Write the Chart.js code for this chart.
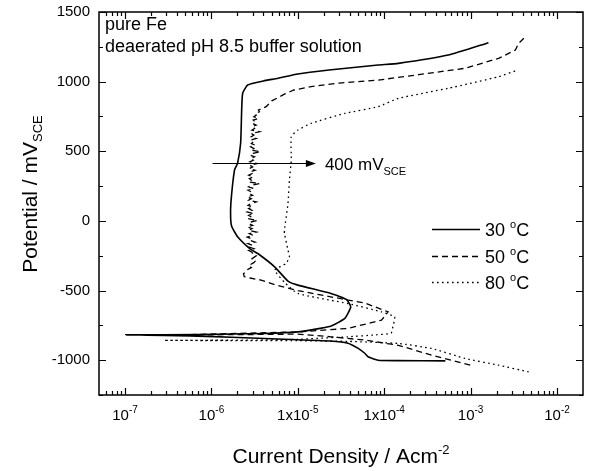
<!DOCTYPE html>
<html>
<head>
<meta charset="utf-8">
<script src="https://cdn.jsdelivr.net/npm/chart.js@4.4.1/dist/chart.umd.min.js"></script>
<style>
  html, body { margin: 0; padding: 0; background: #fff; }
  #wrap { width: 590px; height: 471px; position: relative; }
</style>
</head>
<body>
<div id="wrap"><canvas id="c"></canvas></div>
<script>
// ─── Config ───────────────────────────────────────────────────────────────────

const FONT = '"Liberation Sans", Arial, sans-serif';

const X_MIN = 5e-8, X_MAX = 2e-2;
const Y_MIN = -1250, Y_MAX = 1500;

const X_MAJOR = [1e-7, 1e-6, 1e-5, 1e-4, 1e-3, 1e-2];
const X_TICK_LABELS = [["10", "-7"], ["10", "-6"], ["1x10", "-5"], ["1x10", "-4"], ["10", "-3"], ["10", "-2"]];
const Y_MAJOR = [-1000, -500, 0, 500, 1000, 1500];
const Y_MINOR = [-1250, -750, -250, 250, 750, 1250];

const SERIES_TEMPS = ["30", "50", "80"];
const SERIES_DASH  = [[], [6, 4], [1.6, 3.4]];

// ─── Data (current density A/cm², potential mV_SCE) ──────────────────────────

const CURRENT_30 = [
  5.1e-4, 1.46e-4, 8.5e-5, 6.5e-5, 6.0e-5, 5.0e-5, 3.8e-5, 2.4e-5, 1.0e-5, 1.7e-6, 6.9e-7, 1.02e-7,
  6.9e-7, 4.1e-6, 1.0e-5, 2.4e-5, 3.5e-5, 4.1e-5, 3.65e-5, 2.42e-5, 1.0e-5, 7.7e-6, 5.4e-6, 3.44e-6,
  2.85e-6, 2.01e-6, 1.72e-6, 1.67e-6, 1.68e-6, 1.85e-6, 2.01e-6, 2.18e-6, 2.24e-6, 2.30e-6, 2.63e-6,
  4.0e-6, 5.9e-6, 1.0e-5, 2.3e-5, 8.5e-5, 1.46e-4, 5.5e-4, 1.61e-3
];
const POTENTIAL_30 = [
  -1005, -1003, -1000, -975, -952, -915, -878, -862, -853, -835, -827, -818,
  -816, -808, -797, -756, -700, -617, -564, -521, -461, -432, -330, -234,
  -205, -114, -40, 20, 128, 365, 415, 559, 795, 917, 976,
  1005, 1024, 1055, 1083, 1119, 1131, 1191, 1280
];

const CURRENT_50 = [
  9.9e-4, 3.54e-4, 1.46e-4, 6.0e-5, 2.43e-5, 1.0e-5, 3.5e-7,
  1.0e-5, 3.8e-5, 9.3e-5, 1.11e-4, 6.0e-5, 2.4e-5, 1.0e-5, 5.5e-6, 3.76e-6, 2.8e-6, 2.4e-6, 2.35e-6,
  2.5e-6, 2.6e-6, 2.9e-6, 2.7e-6, 3.1e-6, 3.2e-6, 2.9e-6, 3.3e-6, 3.0e-6,
  2.95e-6, 2.7e-6, 3.1e-6, 2.75e-6, 3.0e-6, 2.65e-6, 3.2e-6, 2.8e-6, 2.9e-6, 2.6e-6,
  3.05e-6, 2.75e-6, 3.3e-6, 2.7e-6, 2.95e-6, 2.6e-6, 3.0e-6, 2.7e-6, 2.85e-6, 3.4e-6,
  2.65e-6, 2.9e-6, 2.7e-6, 3.1e-6, 2.6e-6, 2.95e-6, 2.7e-6, 3.0e-6, 2.65e-6, 2.85e-6,
  3.3e-6, 2.7e-6, 2.9e-6, 2.6e-6, 3.0e-6, 2.75e-6, 2.9e-6, 2.65e-6, 3.1e-6, 2.7e-6,
  2.95e-6, 3.6e-6, 2.7e-6, 2.9e-6, 2.75e-6, 3.05e-6, 2.7e-6, 2.95e-6, 2.8e-6, 3.2e-6,
  2.75e-6, 3.0e-6, 2.8e-6, 3.4e-6, 2.8e-6, 3.05e-6, 2.85e-6, 3.15e-6, 2.8e-6, 3.0e-6,
  3.7e-6, 2.85e-6, 3.1e-6, 2.85e-6, 3.2e-6, 2.9e-6, 3.05e-6, 2.85e-6, 3.3e-6, 2.9e-6,
  3.1e-6, 2.9e-6, 3.6e-6, 2.95e-6, 3.15e-6, 2.95e-6, 3.3e-6, 3.0e-6, 3.2e-6, 3.05e-6,
  3.5e-6, 3.1e-6, 3.3e-6, 3.2e-6, 3.6e-6, 3.5e-6, 3.9e-6, 4.3e-6,
  5.0e-6, 5.9e-6, 7.0e-6, 9.0e-6, 1.42e-5, 3.0e-5,
  8.5e-5, 2.5e-4, 8.65e-4, 2.11e-3, 3.3e-3, 3.6e-3, 4.3e-3
];
const POTENTIAL_50 = [
  -1036, -964, -893, -856, -832, -813, -820,
  -797, -772, -713, -653, -590, -545, -500, -460, -425, -410, -400, -380,
  -365, -350, -335, -320, -300, -290, -275, -250, -236,
  -224, -212, -200, -188, -176, -164, -152, -140, -128, -116,
  -104, -92, -80, -68, -56, -44, -32, -20, -8, 4,
  16, 28, 40, 52, 64, 76, 88, 100, 112, 124,
  136, 148, 160, 172, 184, 196, 208, 220, 232, 244,
  256, 268, 280, 292, 304, 316, 328, 340, 352, 364,
  376, 388, 400, 412, 424, 436, 448, 460, 472, 484,
  496, 508, 520, 532, 544, 556, 568, 580, 592, 604,
  616, 628, 640, 652, 664, 676, 688, 700, 712, 724,
  736, 748, 760, 772, 784, 796, 808, 820,
  862, 885, 910, 940, 964, 990,
  1011, 1050, 1096, 1167, 1227, 1275, 1322
];

const CURRENT_80 = [
  4.7e-3, 2.1e-3, 8.65e-4, 3.54e-4, 1.46e-4, 3.8e-5, 1.0e-5, 2.84e-7,
  3.0e-6, 1.0e-5, 3.8e-5, 8.0e-5, 1.2e-4, 1.26e-4, 1.32e-4, 9.3e-5, 3.8e-5, 1.0e-5, 7.0e-6, 5.4e-6,
  7.3e-6, 8.0e-6, 7.7e-6, 7.0e-6, 7.0e-6, 7.7e-6, 8.0e-6, 8.4e-6, 8.4e-6, 1.0e-5, 1.42e-5, 3.5e-5,
  8.5e-5, 1.46e-4, 5.5e-4, 2.1e-3, 3.5e-3
];
const POTENTIAL_80 = [
  -1084, -1036, -988, -916, -880, -865, -860, -858,
  -856, -850, -832, -818, -806, -760, -689, -653, -593, -521, -440, -353,
  -306, -258, -210, -90, -66, 126, 293, 437, 604, 652, 700, 772,
  820, 880, 952, 1035, 1083
];

// ─── Helpers ──────────────────────────────────────────────────────────────────

const zip = (xs, ys) => xs.map((x, i) => ({ x, y: ys[i] }));

function richWidth(ctx, parts) {
  let w = 0;
  for (const p of parts) {
    ctx.font = `${p.size}px ${FONT}`;
    w += ctx.measureText(p.text).width;
  }
  return w;
}

function drawRich(ctx, parts, x, y, align = "left") {
  const w = richWidth(ctx, parts);
  let cx = align === "center" ? x - w / 2 : align === "right" ? x - w : x;
  ctx.textAlign = "left";
  ctx.textBaseline = "alphabetic";
  for (const p of parts) {
    ctx.font = `${p.size}px ${FONT}`;
    ctx.fillText(p.text, cx, y + (p.dy || 0));
    cx += ctx.measureText(p.text).width;
  }
}

// ─── Decorations plugin ──────────────────────────────────────────────────────

const framePlugin = {
  id: "frame",
  afterDraw(chart) {
    const { ctx, chartArea: a, scales } = chart;
    const sx = scales.x, sy = scales.y;
    ctx.save();
    ctx.strokeStyle = "#000";
    ctx.fillStyle = "#000";

    // frame
    ctx.lineWidth = 1.5;
    ctx.strokeRect(a.left, a.top, a.right - a.left, a.bottom - a.top);

    // x ticks (inward, bottom + top)
    ctx.lineWidth = 1.2;
    const xTick = (v, len) => {
      const px = Math.round(sx.getPixelForValue(v)) + 0.5;
      if (px < a.left + 1 || px > a.right - 1) return;
      ctx.beginPath();
      ctx.moveTo(px, a.bottom); ctx.lineTo(px, a.bottom - len);
      ctx.moveTo(px, a.top); ctx.lineTo(px, a.top + len);
      ctx.stroke();
    };
    for (let d = -8; d <= -2; d++) {
      for (let m = 2; m <= 9; m++) xTick(m * Math.pow(10, d), 4);
    }
    X_MAJOR.forEach((v) => xTick(v, 7));

    // y ticks (inward, left + right)
    const yTick = (v, len) => {
      const py = Math.round(sy.getPixelForValue(v)) + 0.5;
      ctx.beginPath();
      ctx.moveTo(a.left, py); ctx.lineTo(a.left + len, py);
      ctx.moveTo(a.right, py); ctx.lineTo(a.right - len, py);
      ctx.stroke();
    };
    Y_MINOR.forEach((v) => yTick(v, 4));
    Y_MAJOR.forEach((v) => yTick(v, 7));

    // tick labels
    ctx.font = `15px ${FONT}`;
    ctx.textAlign = "right";
    ctx.textBaseline = "middle";
    Y_MAJOR.forEach((v) => ctx.fillText(String(v), a.left - 9, sy.getPixelForValue(v)));

    X_MAJOR.forEach((v, i) => {
      const [base, exp] = X_TICK_LABELS[i];
      drawRich(ctx, [
        { text: base, size: 15 },
        { text: exp, size: 10, dy: -7 },
      ], sx.getPixelForValue(v), a.bottom + 25, "center");
    });

    // axis titles
    drawRich(ctx, [
      { text: "Current Density / Acm", size: 21 },
      { text: "-2", size: 13, dy: -9 },
    ], (a.left + a.right) / 2, 463, "center");

    ctx.save();
    ctx.translate(37, 194);
    ctx.rotate(-Math.PI / 2);
    drawRich(ctx, [
      { text: "Potential / mV", size: 21 },
      { text: "SCE", size: 13, dy: 5 },
    ], 0, 0, "center");
    ctx.restore();

    // annotations
    drawRich(ctx, [{ text: "pure Fe", size: 18 }], a.left + 6, a.top + 18);
    drawRich(ctx, [{ text: "deaerated pH 8.5 buffer solution", size: 18 }], a.left + 6, a.top + 40);

    // arrow at 400 mV
    const ay = Math.round(sy.getPixelForValue(415)) + 0.5;
    const ax0 = sx.getPixelForValue(1.03e-6);
    const ax1 = sx.getPixelForValue(1.62e-5);
    ctx.lineWidth = 1.2;
    ctx.beginPath();
    ctx.moveTo(ax0, ay); ctx.lineTo(ax1 - 8, ay);
    ctx.stroke();
    ctx.beginPath();
    ctx.moveTo(ax1, ay); ctx.lineTo(ax1 - 10, ay - 3.5); ctx.lineTo(ax1 - 10, ay + 3.5);
    ctx.closePath();
    ctx.fill();
    drawRich(ctx, [
      { text: "400 mV", size: 17 },
      { text: "SCE", size: 11, dy: 5 },
    ], ax1 + 9, ay + 6);

    // legend
    SERIES_TEMPS.forEach((t, i) => {
      const ly = Math.round(sy.getPixelForValue(-60 - i * 190)) + 0.5;
      ctx.lineWidth = 1.3;
      ctx.setLineDash(SERIES_DASH[i]);
      ctx.beginPath();
      ctx.moveTo(432, ly); ctx.lineTo(480, ly);
      ctx.stroke();
      ctx.setLineDash([]);
      drawRich(ctx, [
        { text: t + " ", size: 18 },
        { text: "o", size: 11, dy: -8 },
        { text: "C", size: 18 },
      ], 485, ly + 6);
    });

    ctx.restore();
  },
};

// ─── Chart ────────────────────────────────────────────────────────────────────

const datasets = [
  zip(CURRENT_30, POTENTIAL_30),
  zip(CURRENT_50, POTENTIAL_50),
  zip(CURRENT_80, POTENTIAL_80),
].map((data, i) => ({
  label: SERIES_TEMPS[i] + " °C",
  data,
  showLine: true,
  borderColor: "#000",
  borderWidth: i === 0 ? 1.6 : 1.3,
  borderDash: SERIES_DASH[i],
  pointRadius: 0,
  tension: i === 1 ? 0 : 0.15,
  fill: false,
}));

new Chart(document.getElementById("c"), {
  type: "scatter",
  data: { datasets },
  options: {
    responsive: true,
    maintainAspectRatio: false,
    animation: false,
    layout: { padding: { left: 99, top: 12, right: 7, bottom: 76 } },
    plugins: { legend: { display: false }, tooltip: { enabled: false } },
    scales: {
      x: { type: "logarithmic", min: X_MIN, max: X_MAX, display: false },
      y: { type: "linear", min: Y_MIN, max: Y_MAX, display: false },
    },
  },
  plugins: [framePlugin],
});
</script>
</body>
</html>
